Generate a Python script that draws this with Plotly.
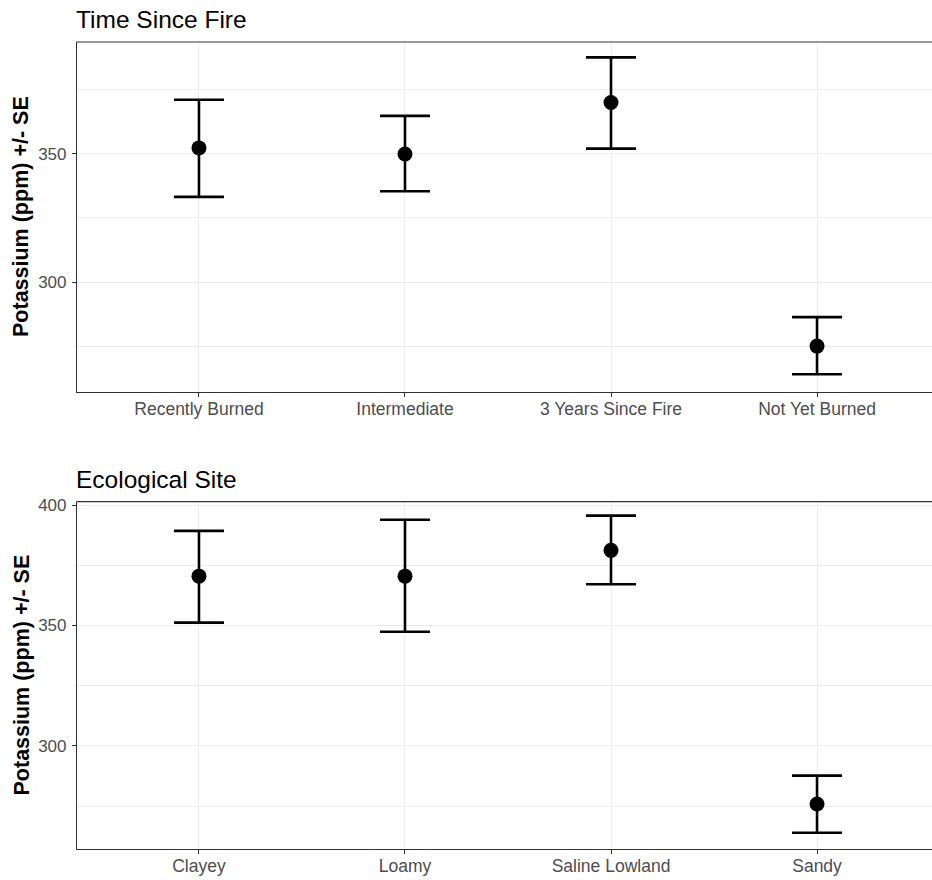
import plotly.graph_objects as go

W, H = 932, 880

# ---- data ----
fire_categories = ["Recently Burned", "Intermediate", "3 Years Since Fire", "Not Yet Burned"]
fire_mean = [352.3, 349.9, 370.0, 275.0]
fire_upper = [371.1, 364.8, 387.6, 286.3]
fire_lower = [333.2, 335.4, 352.0, 264.0]

site_categories = ["Clayey", "Loamy", "Saline Lowland", "Sandy"]
site_mean = [370.5, 370.5, 381.2, 275.9]
site_upper = [389.3, 393.9, 395.6, 287.7]
site_lower = [351.2, 347.4, 367.1, 264.0]

y_major_ticks = [300, 350, 400]

FONT = "Liberation Sans, Arial, sans-serif"
GRID = "#EBEBEB"
BORDER = "#333333"
TICKCOL = "#4D4D4D"

fig = go.Figure()


def add_panel(cats, mean, upper, lower, xa, ya):
    fig.add_trace(go.Scatter(
        x=cats, y=mean, mode="markers", xaxis=xa, yaxis=ya,
        marker=dict(color="black", size=15),
        error_y=dict(type="data", symmetric=False,
                     array=[u - m for u, m in zip(upper, mean)],
                     arrayminus=[m - l for m, l in zip(mean, lower)],
                     color="black", thickness=2.6, width=25),
        showlegend=False, cliponaxis=False,
    ))


add_panel(fire_categories, fire_mean, fire_upper, fire_lower, "x", "y")
add_panel(site_categories, site_mean, site_upper, site_lower, "x2", "y2")

x0 = 77 / W
xr = [-0.592, 3.558]
top_dom = [(H - 392) / H, (H - 42) / H]
bot_dom = [(H - 849.3) / H, (H - 501.7) / H]

common_x = dict(
    type="category", range=xr, domain=[x0, 1], showgrid=True, gridcolor=GRID,
    gridwidth=1.2, showline=True, linecolor=BORDER, linewidth=1.2, mirror=False,
    ticks="outside", ticklen=4, tickcolor=BORDER, tickwidth=1.1,
    tickfont=dict(family=FONT, size=17.5, color=TICKCOL), automargin=False,
    zeroline=False, fixedrange=True, ticklabelstandoff=-3,
)
common_y = dict(
    showgrid=True, gridcolor=GRID, gridwidth=1.2, showline=True, linecolor=BORDER,
    linewidth=1.2, mirror=False, ticks="outside", ticklen=4, tickcolor=BORDER,
    tickwidth=1.1, tickfont=dict(family=FONT, size=17, color=TICKCOL),
    tickvals=y_major_ticks, zeroline=False, automargin=False, ticklabelstandoff=2,
    minor=dict(dtick=25, tick0=0, showgrid=True, gridcolor=GRID, gridwidth=0.7, ticks=""),
)

fig.update_layout(
    width=W, height=H, margin=dict(l=0, r=0, t=0, b=0),
    paper_bgcolor="white", plot_bgcolor="white",
    xaxis=dict(common_x, anchor="y"),
    yaxis=dict(common_y, domain=top_dom, range=[257.1, 393.6], anchor="x"),
    xaxis2=dict(common_x, anchor="y2"),
    yaxis2=dict(common_y, domain=bot_dom, range=[257.1, 401.4], anchor="x2"),
    font=dict(family=FONT),
)

# top border of each panel (right side is cut off in the reference)
for dom in (top_dom, bot_dom):
    fig.add_shape(type="line", xref="paper", yref="paper", x0=x0 - 0.6 / W, x1=1,
                  y0=dom[1], y1=dom[1], line=dict(color=BORDER, width=1.2))

# panel titles
for txt, ytop in [("Time Since Fire", 42), ("Ecological Site", 501.7)]:
    fig.add_annotation(text=txt, xref="paper", yref="paper", x=(77 - 3) / W, y=(H - ytop + 7) / H,
                       xanchor="left", yanchor="bottom", showarrow=False,
                       font=dict(family=FONT, size=24.5, color="black"))

# y-axis titles
for dom in (top_dom, bot_dom):
    fig.add_annotation(text="<b>Potassium (ppm) +/- SE</b>", xref="paper", yref="paper",
                       x=21 / W, y=(dom[0] + dom[1]) / 2, xanchor="center", yanchor="middle",
                       textangle=-90, showarrow=False,
                       font=dict(family=FONT, size=21.5, color="black"))

fig.write_html("out.html")
